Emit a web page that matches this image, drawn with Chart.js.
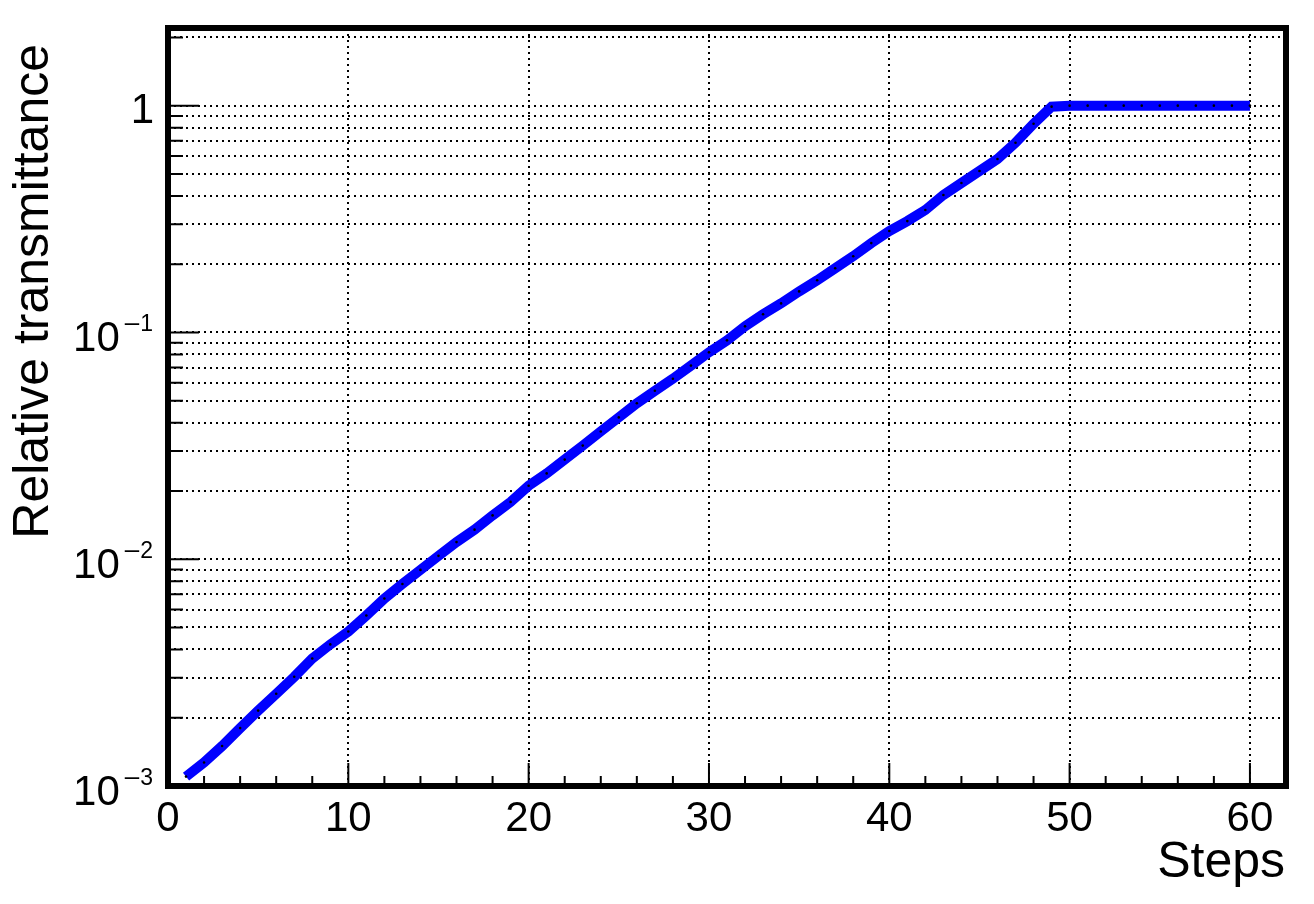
<!DOCTYPE html>
<html>
<head>
<meta charset="utf-8">
<script src="https://cdn.jsdelivr.net/npm/chart.js@4/dist/chart.umd.min.js"></script>
<style>
  html, body { margin: 0; padding: 0; background: #fff; }
  canvas { display: block; }
</style>
</head>
<body>
<canvas id="chart" width="1314" height="904"></canvas>
<script>
const FONT = '"Liberation Sans", Arial, Helvetica, sans-serif';

const steps = [1, 2, 3, 4, 5, 6, 7, 8, 9, 10, 11, 12, 13, 14, 15, 16, 17, 18, 19, 20,
  21, 22, 23, 24, 25, 26, 27, 28, 29, 30, 31, 32, 33, 34, 35, 36, 37, 38, 39, 40,
  41, 42, 43, 44, 45, 46, 47, 48, 49, 50, 51, 52, 53, 54, 55, 56, 57, 58, 59, 60];

const transmittance = [0.00110, 0.00127, 0.00150, 0.00180, 0.00215, 0.00255, 0.00303, 0.00365, 0.00421, 0.00480,
  0.00565, 0.00671, 0.00778, 0.00897, 0.01035, 0.0119, 0.0135, 0.0156, 0.0179, 0.0211,
  0.0239, 0.0275, 0.0317, 0.0366, 0.0422, 0.0487, 0.0553, 0.0625, 0.0714, 0.0817,
  0.0923, 0.1064, 0.1202, 0.1343, 0.1517, 0.1698, 0.1919, 0.2168, 0.2477, 0.2799,
  0.3097, 0.3467, 0.4036, 0.456, 0.515, 0.582, 0.686, 0.832, 0.990, 1.0,
  1.0, 1.0, 1.0, 1.0, 1.0, 1.0, 1.0, 1.0, 1.0, 1.0];

const xLabelTicks = [0, 10, 20, 30, 40, 50, 60];
const yGridValues = [0.001, 0.002, 0.003, 0.004, 0.005, 0.006, 0.007, 0.008, 0.009,
  0.01, 0.02, 0.03, 0.04, 0.05, 0.06, 0.07, 0.08, 0.09,
  0.1, 0.2, 0.3, 0.4, 0.5, 0.6, 0.7, 0.8, 0.9, 1, 2];
const yLabelValues = [0.001, 0.01, 0.1, 1];
const yLabelExponents = ['3', '2', '1', ''];

const isDecade = v => Math.abs(Math.log10(v) - Math.round(Math.log10(v))) < 1e-9;

// ROOT-like frame: thick box, inward ticks, 10^n labels
const rootFrame = {
  id: 'rootFrame',
  afterDraw(chart) {
    const { ctx, chartArea: a, scales: { x, y } } = chart;
    ctx.save();
    ctx.strokeStyle = '#000';
    ctx.fillStyle = '#000';
    ctx.setLineDash([]);

    ctx.lineWidth = 2;
    ctx.beginPath();
    for (let v = 2; v <= 60; v += 2) {
      const px = x.getPixelForValue(v);
      const len = v % 10 === 0 ? 23 : 10;
      ctx.moveTo(px, a.bottom);
      ctx.lineTo(px, a.bottom - len);
    }
    yGridValues.forEach(v => {
      if (v >= y.max) return;
      const py = y.getPixelForValue(v);
      const len = isDecade(v) ? 31 : 15;
      ctx.moveTo(a.left, py);
      ctx.lineTo(a.left + len, py);
    });
    ctx.stroke();

    ctx.lineWidth = 6;
    ctx.strokeRect(a.left, a.top, a.right - a.left, a.bottom - a.top);

    // y tick labels
    const labelRight = a.left - 15;
    ctx.textBaseline = 'alphabetic';
    yLabelValues.forEach((v, i) => {
      const py = y.getPixelForValue(v);
      const exp = yLabelExponents[i];
      if (!exp) {
        ctx.font = '42px ' + FONT;
        ctx.textAlign = 'right';
        ctx.fillText('1', labelRight + 1, py + 17);
        return;
      }
      ctx.textAlign = 'left';
      ctx.font = '42px ' + FONT;
      const wBase = ctx.measureText('10').width;
      ctx.font = '26px ' + FONT;
      const wDash = ctx.measureText('\u2013').width;
      ctx.font = '23px ' + FONT;
      const wExp = ctx.measureText(exp).width;
      const x0 = labelRight - (wBase + 5 + wDash + 1 + wExp);
      ctx.font = '42px ' + FONT;
      ctx.fillText('10', x0, py + 19);
      ctx.font = '26px ' + FONT;
      ctx.fillText('\u2013', x0 + wBase + 5, py - 1);
      ctx.font = '23px ' + FONT;
      ctx.fillText(exp, x0 + wBase + 5 + wDash + 1, py - 1);
    });

    // axis titles
    ctx.font = '50px ' + FONT;
    ctx.textAlign = 'right';
    ctx.fillText('Steps', 1285, 877);

    ctx.save();
    ctx.translate(48, 44);
    ctx.rotate(-Math.PI / 2);
    ctx.textAlign = 'right';
    ctx.fillText('Relative transmittance', 0, 0);
    ctx.restore();

    ctx.restore();
  }
};

new Chart(document.getElementById('chart'), {
  type: 'line',
  data: {
    datasets: [{
      label: 'Relative transmittance',
      data: steps.map((s, i) => ({ x: s, y: transmittance[i] })),
      borderColor: '#0000ff',
      borderWidth: 10,
      borderCapStyle: 'butt',
      borderJoinStyle: 'miter',
      tension: 0,
      fill: false,
      pointRadius: 1.3,
      pointBorderWidth: 0,
      pointBackgroundColor: '#000',
      pointHoverRadius: 1.3
    }]
  },
  options: {
    responsive: false,
    animation: false,
    devicePixelRatio: 1,
    layout: { padding: { left: 0, right: 28, top: 28, bottom: 0 } },
    plugins: { legend: { display: false }, tooltip: { enabled: false } },
    scales: {
      x: {
        type: 'linear',
        min: 0,
        max: 62,
        afterBuildTicks: scale => { scale.ticks = xLabelTicks.map(v => ({ value: v })); },
        afterFit: scale => { scale.height = 118; },
        grid: { color: '#000', lineWidth: 2, drawTicks: false },
        border: { display: false, dash: [2, 4] },
        ticks: {
          color: '#000',
          font: { family: FONT, size: 42 },
          padding: 8,
          maxRotation: 0,
          autoSkip: false,
          callback: v => String(v)
        }
      },
      y: {
        type: 'logarithmic',
        min: 0.001,
        max: 2.2,
        afterBuildTicks: scale => { scale.ticks = yGridValues.map(v => ({ value: v })); },
        afterFit: scale => { scale.width = 168; },
        grid: { color: '#000', lineWidth: 2, drawTicks: false },
        border: { display: false, dash: [2, 4] },
        ticks: { display: false }
      }
    }
  },
  plugins: [rootFrame]
});
</script>
</body>
</html>
